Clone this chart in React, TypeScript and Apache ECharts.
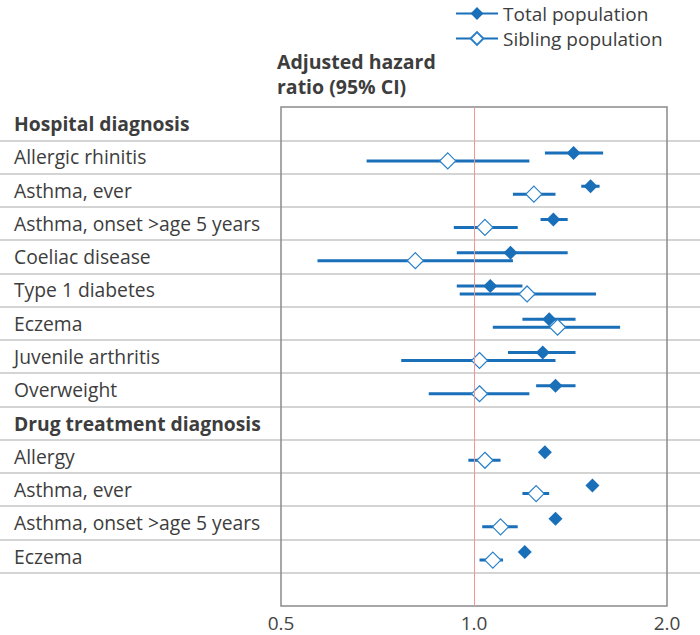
import React, { useEffect, useRef } from "react";
import * as echarts from "echarts";

// ---- data ----
const headers = ["Hospital diagnosis", "Drug treatment diagnosis"];
const hospitalRows = [
  "Allergic rhinitis",
  "Asthma, ever",
  "Asthma, onset >age 5 years",
  "Coeliac disease",
  "Type 1 diabetes",
  "Eczema",
  "Juvenile arthritis",
  "Overweight",
];
const drugRows = ["Allergy", "Asthma, ever", "Asthma, onset >age 5 years", "Eczema"];

// hazard ratios (hospital rows first, then drug rows)
const totalHR = [1.43, 1.52, 1.33, 1.14, 1.06, 1.31, 1.28, 1.34, 1.29, 1.53, 1.34, 1.2];
const totalLo = [1.29, 1.47, 1.27, 0.94, 0.94, 1.19, 1.13, 1.25, 1.28, 1.52, 1.33, 1.19];
const totalHi = [1.59, 1.57, 1.4, 1.4, 1.19, 1.44, 1.44, 1.44, 1.3, 1.54, 1.35, 1.21];
const sibHR = [0.91, 1.24, 1.04, 0.81, 1.21, 1.35, 1.02, 1.02, 1.04, 1.25, 1.1, 1.07];
const sibLo = [0.68, 1.15, 0.93, 0.57, 0.95, 1.07, 0.77, 0.85, 0.98, 1.19, 1.03, 1.02];
const sibHi = [1.22, 1.34, 1.17, 1.15, 1.55, 1.69, 1.34, 1.22, 1.1, 1.31, 1.17, 1.11];

const xTicks = [0.5, 1, 2];
const seriesNames = ["Total population", "Sibling population"];
const axisTitle = "Adjusted hazard\nratio (95% CI)";

// ---- layout of slots ----
const slots: string[] = [headers[0], ...hospitalRows, headers[1], ...drugRows, ""];
const headerSet = new Set([0, hospitalRows.length + 1]);
const dataSlots: number[] = slots
  .map((_, i) => i)
  .filter((i) => !headerSet.has(i) && slots[i] !== "");

const BLUE = "#1a6fb9";
const TEXT = "#3d3d3d";
const FONT = "'Open Sans', sans-serif";

function buildData(hr: number[], lo: number[], hi: number[], off: number) {
  const out: any[] = [];
  hr.forEach((v, i) => {
    const y = dataSlots[i] + 0.5 + off;
    out.push({ value: [lo[i], y], symbol: "none" });
    out.push({ value: [v, y] });
    out.push({ value: [hi[i], y], symbol: "none" });
    out.push({ value: ["-", "-"], symbol: "none" });
  });
  return out;
}

export default function App() {
  const ref = useRef<HTMLDivElement>(null);
  useEffect(() => {
    document.body.style.margin = "0";
    const chart = echarts.init(ref.current!, null, { renderer: "svg" });
    chart.setOption({
      animation: false,
      textStyle: { fontFamily: FONT },
      title: {
        text: axisTitle,
        left: 277,
        top: 49,
        padding: 0,
        textStyle: { fontFamily: FONT, fontWeight: "bold", fontSize: 19.5, lineHeight: 25, color: TEXT },
      },
      legend: {
        data: seriesNames,
        orient: "vertical",
        left: 455,
        top: 4,
        padding: 0,
        itemWidth: 42,
        itemHeight: 16,
        itemGap: 6,
        textStyle: { fontFamily: FONT, fontSize: 19, lineHeight: 19, color: TEXT },
      },
      grid: [
        { left: 281, right: 33, top: 107, bottom: 29, show: true, borderColor: "#8a8a8a", borderWidth: 1.5, backgroundColor: "transparent", z: 1 },
        { left: 0, right: 0, top: 107, bottom: 29, show: false },
      ],
      xAxis: [
        {
          type: "log",
          logBase: 2,
          gridIndex: 0,
          min: xTicks[0],
          max: xTicks[xTicks.length - 1],
          splitNumber: xTicks.length - 1,
          axisLine: { show: false },
          axisTick: { show: false },
          splitLine: { show: false },
          axisLabel: {
            formatter: (v: number) => Number(v).toFixed(1),
            fontSize: 19,
            lineHeight: 19,
            color: "#444",
            margin: 7,
            fontFamily: FONT,
          },
        },
        { type: "value", gridIndex: 1, show: false, min: 0, max: 1 },
      ],
      yAxis: [
        { type: "value", gridIndex: 0, min: 0, max: slots.length, inverse: true, show: false },
        {
          type: "category",
          gridIndex: 1,
          inverse: true,
          data: slots.map((_, i) => String(i)),
          axisLine: { show: false },
          axisTick: { show: false },
          splitLine: {
            show: true,
            showMinLine: false,
            showMaxLine: false,
            lineStyle: { color: "#c6c6c6", width: 1.5 },
          },
          axisLabel: {
            inside: true,
            margin: 14,
            align: "left",
            interval: 0,
            formatter: (_: string, idx: number) => {
              const s = slots[idx];
              if (!s) return "";
              return headerSet.has(idx) ? `{b|${s}}` : `{n|${s}}`;
            },
            rich: {
              b: { fontFamily: FONT, fontSize: 19.3, fontWeight: "bold", color: TEXT },
              n: { fontFamily: FONT, fontSize: 19.3, color: TEXT },
            },
          },
        },
      ],
      series: [
        {
          name: "ref",
          type: "line",
          xAxisIndex: 0,
          yAxisIndex: 0,
          data: [],
          z: 1,
          markLine: {
            silent: true,
            symbol: "none",
            label: { show: false },
            lineStyle: { color: "#f29595", width: 1, type: "solid" },
            data: [{ xAxis: 1 }],
          },
        },
        {
          name: seriesNames[0],
          type: "line",
          xAxisIndex: 0,
          yAxisIndex: 0,
          showAllSymbol: true,
          connectNulls: false,
          symbol: "diamond",
          symbolSize: 14,
          itemStyle: { color: BLUE },
          lineStyle: { color: BLUE, width: 3 },
          data: buildData(totalHR, totalLo, totalHi, -0.12),
          z: 3,
        },
        {
          name: seriesNames[1],
          type: "line",
          xAxisIndex: 0,
          yAxisIndex: 0,
          showAllSymbol: true,
          connectNulls: false,
          symbol: "diamond",
          symbolSize: 16,
          itemStyle: { color: "#ffffff", borderColor: "#2b80c8", borderWidth: 1.2 },
          lineStyle: { color: BLUE, width: 3 },
          data: buildData(sibHR, sibLo, sibHi, 0.12),
          z: 4,
        },
      ],
    });
    return () => chart.dispose();
  }, []);
  return <div ref={ref} style={{ width: 700, height: 635 }} />;
}
